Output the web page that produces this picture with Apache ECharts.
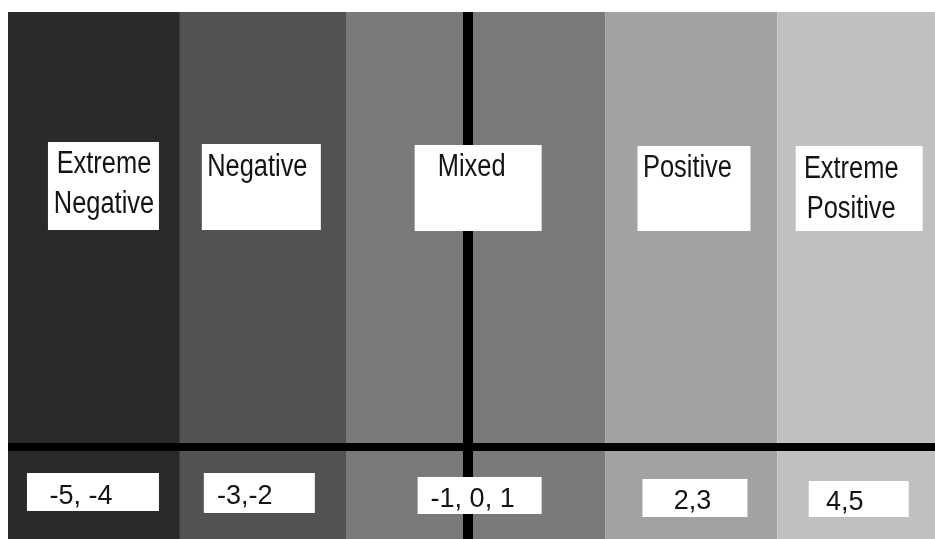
<!DOCTYPE html>
<html><head><meta charset="utf-8">
<script src="https://cdn.jsdelivr.net/npm/echarts@6/dist/echarts.min.js"></script>
<style>html,body{margin:0;padding:0;background:#fff}#c{width:935px;height:539px}</style>
</head><body><div id="c"></div>
<script>
// ---- data ----
const categories = ['Extreme\nNegative', 'Negative', 'Mixed', 'Positive', 'Extreme\nPositive'];
const scoreLabels = ['-5, -4', '-3,-2', '-1, 0, 1', '2,3', '4,5'];
const bandEdges = [-5.46, -3.42, -1.44, 1.63, 3.67, 5.54];
const xRange = [-5.46, 5.54];
const yRange = [-1, 4.71];

// ---- styles / layout ----
const shades = ['#2a2a2a', '#525252', '#7a7a7a', '#a2a2a2', '#c0c0c0'];
// [left offset from band centre, top, width, height, text centre offset, first baseline]
const topBoxes = [
  [-46, 142, 111, 88, 10, 174],
  [-61.5, 144, 119, 86, -6, 177],
  [-61.5, 145, 127, 86, -4.5, 177],
  [-54, 146, 113, 85, -4, 178],
  [-60.5, 146, 127, 85, -5, 179]
];
const bottomBoxes = [
  [-67, 473, 132, 38, -13, 505],
  [-59.5, 473, 111, 40, -18.5, 505],
  [-58.5, 477, 124, 37, -3.5, 508],
  [-49, 479, 105, 38, 1, 510],
  [-47.5, 481, 100, 36, -11.5, 511]
];
const topFont = '"Liberation Sans", Arimo, sans-serif';
const botFont = '"Liberation Sans", Arimo, sans-serif';
const topFs = 31, botFs = 27, lineGap = 40;
const topScaleX = 0.82, botScaleX = 1.0;

const bandData = bandEdges.slice(0, -1).map((e, i) => [e, bandEdges[i + 1], i]);
const midData = bandEdges.slice(0, -1).map((e, i) => [(e + bandEdges[i + 1]) / 2, 0, i]);

const chart = echarts.init(document.getElementById('c'), null, {renderer: 'canvas'});

function textEl(str, cx, baseline, font, fs, sx) {
  return {
    type: 'text',
    x: cx, y: baseline - 0.31 * fs,
    scaleX: sx,
    style: {
      text: str, x: 0, y: 0,
      align: 'center', verticalAlign: 'middle',
      fontFamily: font, fontSize: fs, fill: '#141414'
    }
  };
}

chart.setOption({
  animation: false,
  backgroundColor: '#fff',
  grid: {left: 8, right: 0, top: 12, bottom: 0},
  xAxis: {
    type: 'value', min: xRange[0], max: xRange[1], z: 5,
    axisLine: {show: true, onZero: true, lineStyle: {color: '#000', width: 8, cap: 'butt'}},
    axisTick: {show: false}, axisLabel: {show: false}, splitLine: {show: false}
  },
  yAxis: {
    type: 'value', min: yRange[0], max: yRange[1], z: 5,
    axisLine: {show: true, onZero: true, lineStyle: {color: '#000', width: 10, cap: 'butt'}},
    axisTick: {show: false}, axisLabel: {show: false}, splitLine: {show: false}
  },
  series: [
    {
      type: 'custom', z: 1, silent: true,
      encode: {x: [0, 1]},
      data: bandData,
      renderItem: function (params, api) {
        const i = api.value(2);
        const p0 = api.coord([api.value(0), yRange[1]]);
        const p1 = api.coord([api.value(1), yRange[0]]);
        return {
          type: 'rect',
          shape: {x: p0[0], y: p0[1], width: p1[0] - p0[0], height: p1[1] - p0[1]},
          style: {fill: shades[i]}
        };
      }
    },
    {
      type: 'custom', z: 10, silent: true,
      encode: {x: 0, y: 1},
      data: midData,
      renderItem: function (params, api) {
        const i = api.value(2);
        const cx = api.coord([api.value(0), 0])[0];
        const tb = topBoxes[i], bb = bottomBoxes[i];
        const children = [
          {type: 'rect', shape: {x: cx + tb[0], y: tb[1], width: tb[2], height: tb[3]}, style: {fill: '#fff'}},
          {type: 'rect', shape: {x: cx + bb[0], y: bb[1], width: bb[2], height: bb[3]}, style: {fill: '#fff'}}
        ];
        categories[i].split('\n').forEach((ln, k) => {
          children.push(textEl(ln, cx + tb[4], tb[5] + k * lineGap, topFont, topFs, topScaleX));
        });
        children.push(textEl(scoreLabels[i], cx + bb[4], bb[5], botFont, botFs, botScaleX));
        return {type: 'group', children: children};
      }
    }
  ]
});
</script>
</body></html>
